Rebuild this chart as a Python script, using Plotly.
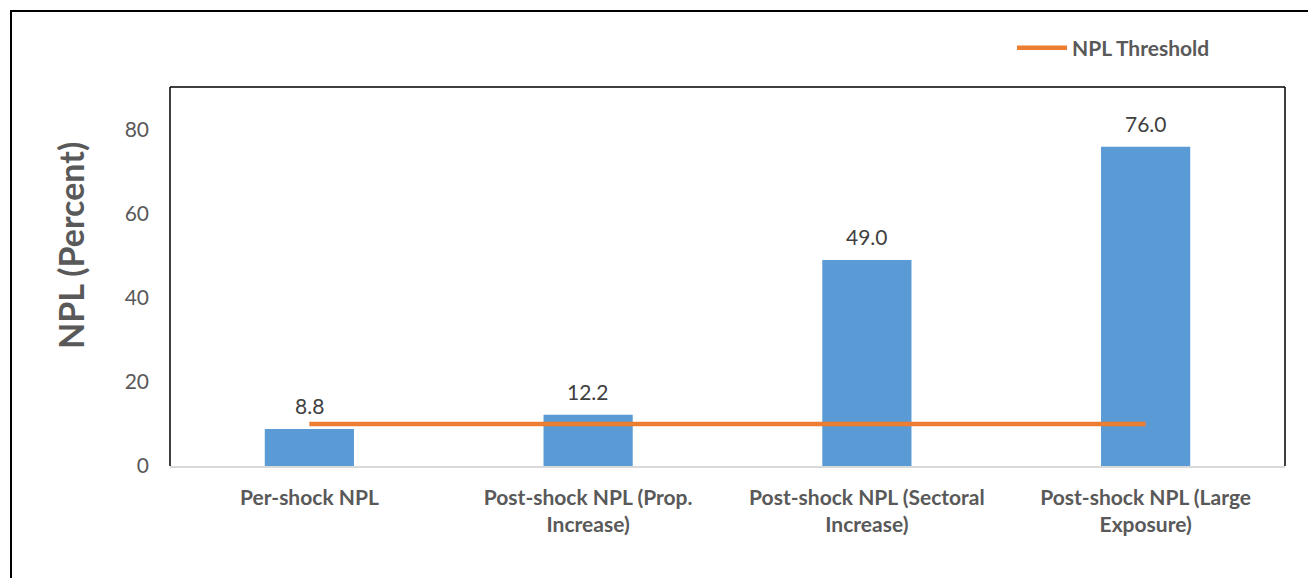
import plotly.graph_objects as go

categories = ["Per-shock NPL", "Post-shock NPL (Prop.<br>Increase)",
              "Post-shock NPL (Sectoral<br>Increase)", "Post-shock NPL (Large<br>Exposure)"]
npl_values = [8.8, 12.2, 49.0, 76.0]
threshold = [10, 10, 10, 10]
y_ticks = [0, 20, 40, 60, 80]

FONT = "Lato, 'Open Sans', sans-serif"
GRAY = "#595959"

L, R, T, B = 170, 23, 87, 112
W, H = 1308, 578
pw, ph = W - L - R, H - T - B

def px(x):
    return (x - L) / pw

def py(y):
    return (H - B - y) / ph

fig = go.Figure()
fig.add_trace(go.Bar(
    x=categories, y=npl_values, marker=dict(color="#5B9BD5", line=dict(width=0)),
    width=0.32, showlegend=False,
))
fig.add_trace(go.Scatter(
    x=categories, y=threshold, mode="lines", name="<b>NPL Threshold</b>",
    line=dict(color="#ED7D31", width=4.5),
))

annotations = [dict(text=f"{v:.1f}", x=c, y=v, xref="x", yref="y", showarrow=False,
                    yanchor="bottom", yshift=9, font=dict(size=21, color="#404040", family=FONT))
               for c, v in zip(categories, npl_values)]
annotations.append(dict(text="<b>NPL (Percent)</b>", x=px(70), y=py(246), xref="paper", yref="paper",
                        textangle=-90, showarrow=False, font=dict(size=34, color=GRAY, family=FONT),
                        xanchor="center", yanchor="middle"))

fig.update_layout(
    width=W, height=H, margin=dict(l=L, r=R, t=T, b=B),
    paper_bgcolor="white", plot_bgcolor="white",
    font=dict(family=FONT, color=GRAY),
    showlegend=True,
    legend=dict(x=px(1012), y=py(48), xanchor="left", yanchor="middle",
                orientation="h", font=dict(size=21, color=GRAY, family=FONT),
                bgcolor="rgba(0,0,0,0)", itemwidth=50),
    xaxis=dict(showgrid=False, showline=True, linecolor="#D9D9D9", linewidth=1.5,
               ticks="", tickfont=dict(size=21, color=GRAY, family=FONT),
               ticklabelstandoff=12),
    yaxis=dict(range=[0, 90.2], tickvals=y_ticks, showgrid=False, zeroline=False,
               showline=False, ticks="", tickfont=dict(size=21, color=GRAY, family=FONT),
               ticklabelstandoff=20),
    annotations=annotations,
    shapes=[
        dict(type="line", xref="paper", yref="paper", x0=0, x1=1, y0=1, y1=1,
             line=dict(color="black", width=1.5)),
        dict(type="line", xref="paper", yref="paper", x0=0, x1=0, y0=0, y1=1,
             line=dict(color="black", width=1.5)),
        dict(type="line", xref="paper", yref="paper", x0=1, x1=1, y0=0, y1=1,
             line=dict(color="black", width=1.5)),
        dict(type="rect", xref="paper", yref="paper", x0=px(11), x1=px(1330), y0=py(11), y1=py(620),
             line=dict(color="black", width=2)),
    ],
)
fig.update_xaxes(ticktext=[f"<b>{c}</b>" for c in categories], tickvals=categories)

fig.write_html("out.html")
